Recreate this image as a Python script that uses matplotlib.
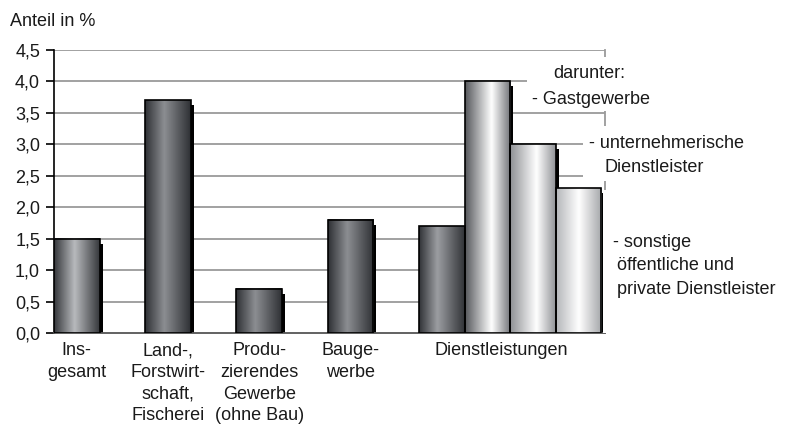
import numpy as np
import matplotlib
matplotlib.use("Agg")
import matplotlib.pyplot as plt
from matplotlib.colors import LinearSegmentedColormap
from matplotlib.patches import Rectangle
from matplotlib.transforms import blended_transform_factory

plt.rcParams['font.family'] = ['Liberation Sans', 'DejaVu Sans']

# ==================================================
# DATA
# ==================================================
categories = ["Ins-\ngesamt", "Land-,\nForstwirt-\nschaft,\nFischerei",
              "Produ-\nzierendes\nGewerbe\n(ohne Bau)", "Bauge-\nwerbe",
              "Dienstleistungen"]
values = [1.5, 3.7, 0.7, 1.8, 1.7]
sub_labels = ["Gastgewerbe", "unternehmerische Dienstleister",
              "sonstige öffentliche und private Dienstleister"]
sub_values = [4.0, 3.0, 2.3]
yticks = [0.0, 0.5, 1.0, 1.5, 2.0, 2.5, 3.0, 3.5, 4.0, 4.5]

# bar shading (edge, peak, peak position, right edge)
shades_main = [("#35373b", "#b8babd", 0.45, "#35373b"),
               ("#2e3034", "#8c8e92", 0.42, "#2e3034"),
               ("#2e3034", "#8c8e92", 0.42, "#2e3034"),
               ("#2e3034", "#8c8e92", 0.42, "#2e3034"),
               ("#303236", "#9c9ea2", 0.40, "#303236")]
shades_sub = [("#55575b", "#ffffff", 0.58, "#707276"),
              ("#8e9094", "#ffffff", 0.58, "#909296"),
              ("#b4b6b9", "#ffffff", 0.50, "#a4a6a9")]

FS = 13
TXT = "#1a1a1a"

W, H = 788, 424
fig = plt.figure(figsize=(W / 100, H / 100), dpi=100)
ax = fig.add_axes([54 / W, (H - 333) / H, (605 - 54) / W, (333 - 50) / H])

XMAX = 12.08

# gridlines
for t in yticks[1:]:
    ax.axhline(t, color="#9a9a9a", lw=1.3, zorder=1)


def draw_bar(x0, h, shade):
    c0, c1, pos, c2 = shade
    cmap = LinearSegmentedColormap.from_list("b", [(0, c0), (pos, c1), (1, c2)])
    grad = np.linspace(0, 1, 256).reshape(1, -1)
    # shadow
    ax.add_patch(Rectangle((x0 + 1, 0), 0.07, h - 0.08, color="black", lw=0, zorder=2))
    ax.imshow(grad, cmap=cmap, extent=[x0, x0 + 1, 0, h], aspect="auto",
              zorder=3, interpolation="bicubic")
    ax.add_patch(Rectangle((x0, 0), 1, h, fill=False, ec="black", lw=1.2, zorder=4))


positions = [0, 2, 4, 6, 8]
for x0, v, s in zip(positions, values, shades_main):
    draw_bar(x0, v, s)
for i, (v, s) in enumerate(zip(sub_values, shades_sub)):
    draw_bar(9 + i, v, s)

ax.set_xlim(0, XMAX)
ax.set_ylim(0, 4.5)

# spines and ticks
ax.spines["top"].set_visible(False)
ax.spines["left"].set_color("black")
ax.spines["left"].set_linewidth(1.2)
ax.spines["bottom"].set_color("#555555")
ax.spines["bottom"].set_linewidth(1.3)
ax.spines["right"].set_color("#9a9a9a")
ax.spines["right"].set_linewidth(1.3)
ax.spines["right"].set_zorder(1)
ax.set_yticks(yticks)
ax.set_yticklabels([f"{t:.1f}".replace(".", ",") for t in yticks],
                   fontsize=FS, color=TXT)
ax.tick_params(axis="y", direction="out", length=6, width=1.2, color="black", pad=4)
ax.set_xticks([])

fig.text(10 / W, 1 - 21 / H, "Anteil in %", fontsize=FS, va="center", ha="left",
         color=TXT)

# category labels
trans = blended_transform_factory(ax.transData, fig.transFigure)
label_x = [0.5, 2.5, 4.5, 6.5, 9.8]
for lx, lab in zip(label_x, categories):
    ax.text(lx, 1 - 342 / H, lab, transform=trans, ha="center", va="top",
            fontsize=FS, linespacing=1.37, color=TXT)

# white boxes behind the sub-category notes
def px_x(p):
    return (p - 54) / 45.6

def px_y(p):
    return (333 - p) / (283 / 4.5)

boxes = [(527, 57, 111), (583, 126, 181), (603, 190, 333)]
for bx, top, bot in boxes:
    ax.add_patch(Rectangle((px_x(bx), px_y(bot)), px_x(800) - px_x(bx),
                           px_y(top) - px_y(bot), color="white", lw=0,
                           zorder=5, clip_on=False))

note_lines = [
    (553, 73, "darunter:"),
    (532, 99, "- " + sub_labels[0]),
    (589, 144, "- " + sub_labels[1].split(" ")[0]),
    (604, 167, sub_labels[1].split(" ")[1]),
    (613, 242, "- " + sub_labels[2].split(" ")[0]),
    (617, 266, " ".join(sub_labels[2].split(" ")[1:3])),
    (617, 290, " ".join(sub_labels[2].split(" ")[3:])),
]
for x, y, t in note_lines:
    fig.text(x / W, 1 - y / H, t, fontsize=FS, ha="left", va="center", zorder=6,
             color=TXT)

fig.savefig("out.png", dpi=100)
